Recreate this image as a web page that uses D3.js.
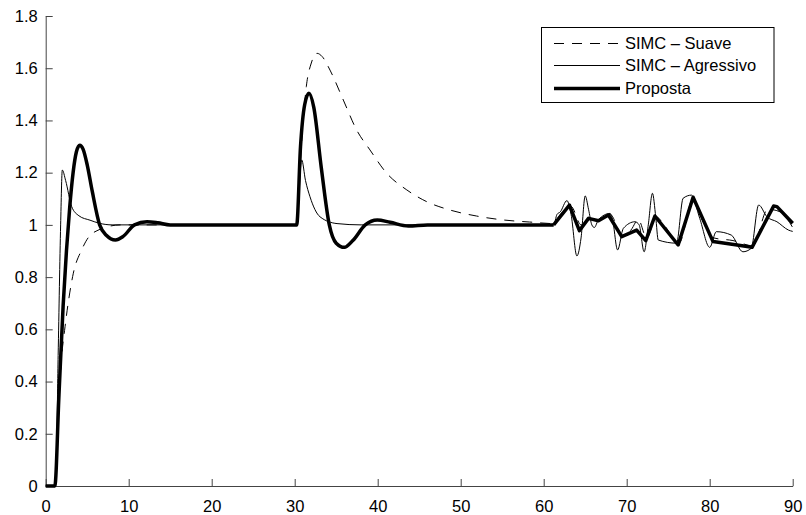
<!DOCTYPE html>
<html>
<head>
<meta charset="utf-8">
<script src="https://cdn.jsdelivr.net/npm/d3@7"></script>
<style>
  body { margin: 0; background: #fff; }
  text { font-family: "Liberation Sans", Arial, sans-serif; }
</style>
</head>
<body>
<svg id="chart" width="806" height="515"></svg>
<script>
// [t, y] pairs
const suave = [
  [0, 0], [1.15, 0], [1.5, 0.25], [1.93, 0.495], [2.33, 0.61], [2.8, 0.72], [3.33, 0.815],
  [4.33, 0.904], [5.1, 0.95], [6.54, 0.983], [7.7, 0.995], [9, 1.0], [30.24, 1.0],
  [30.8, 1.3], [31.4, 1.53], [32.0, 1.62], [32.7, 1.657], [33.3, 1.645], [34.25, 1.593],
  [35.86, 1.478], [37.47, 1.363], [39.07, 1.287], [41.08, 1.198], [43.5, 1.134],
  [45.9, 1.089], [48.7, 1.057], [51.9, 1.034], [55.1, 1.019], [58.3, 1.011], [61.2, 1.005],
  [62, 1.04], [63.3, 1.07], [64.5, 1.0], [65.5, 1.02], [66.6, 1.02], [68, 1.04],
  [69.5, 0.96], [70.5, 0.98], [71.4, 1.02], [72.4, 0.95], [73.6, 1.03], [74.5, 1.0],
  [76.3, 0.93], [78, 1.1], [78.8, 1.04], [80.5, 0.95], [82.8, 0.94], [85.2, 0.92],
  [87, 1.06], [88.5, 1.05], [90, 0.99]
];

const agressivo = [
  [0, 0], [1.2, 0], [1.5, 0.5], [1.8, 1.0], [2.0, 1.21], [2.4, 1.17], [3.13, 1.07],
  [4, 1.035], [5.34, 1.018], [6.5, 1.006], [8, 1.0], [30.24, 1.0], [30.84, 1.249],
  [31.3, 1.17], [31.84, 1.108], [33.05, 1.031], [35.1, 1.005], [38, 1.0], [61.2, 1.0],
  [61.6, 1.04], [62.0, 1.05], [62.8, 1.093], [63.3, 1.04], [64.0, 0.881], [64.5, 0.95],
  [65.0, 1.111], [65.4, 1.06], [65.8, 1.0], [66.1, 0.99], [66.6, 1.02], [68.0, 1.044],
  [68.3, 1.02], [68.9, 0.904], [69.6, 0.987], [71, 1.012], [71.5, 1.0], [72.1, 0.897],
  [72.6, 1.0], [73.1, 1.121], [73.5, 1.03], [73.8, 0.942], [76.0, 0.93], [76.8, 1.102],
  [77.8, 1.114], [78.8, 1.025], [80.0, 0.914], [80.8, 0.974], [82.6, 0.961], [84, 0.897],
  [85, 0.91], [85.9, 1.076], [86.9, 1.031], [88.1, 1.012], [89.5, 0.98], [90, 0.975]
];

const proposta = [
  [0, 0], [1.1, 0], [1.6, 0.35], [2.1, 0.69], [2.5, 0.9], [2.9, 1.07], [3.3, 1.2],
  [3.7, 1.28], [4.1, 1.305], [4.5, 1.29], [5, 1.23], [5.6, 1.13], [6.5, 1.0], [7.3, 0.96],
  [8.4, 0.942], [9.3, 0.955], [10.7, 1.0], [12.2, 1.012], [13.5, 1.008], [15, 1.0],
  [30.24, 1.0], [30.7, 1.3], [31.2, 1.46], [31.72, 1.504], [32.3, 1.45], [33.2, 1.22],
  [34.17, 1.0], [35.0, 0.93], [35.98, 0.914], [37.0, 0.94], [38.5, 1.0], [39.95, 1.019],
  [41.5, 1.01], [43.7, 0.996], [46, 1.0], [61.2, 1.0], [63.1, 1.076], [64.3, 0.978],
  [65.4, 1.025], [66.6, 1.016], [67.8, 1.038], [69.4, 0.955], [71.2, 0.98], [72.3, 0.94],
  [73.4, 1.034], [76.2, 0.923], [78.0, 1.106], [80.4, 0.936], [83.3, 0.923], [85.1, 0.914],
  [87.7, 1.072], [88.1, 1.07], [90, 1.006]
];

const xTicks = [0, 10, 20, 30, 40, 50, 60, 70, 80, 90];
const yTicks = [0, 0.2, 0.4, 0.6, 0.8, 1, 1.2, 1.4, 1.6, 1.8];
const legendLabels = ["SIMC \u2013 Suave", "SIMC \u2013 Agressivo", "Proposta"];

const svg = d3.select("#chart");
const x = d3.scaleLinear().domain([0, 90]).range([45.7, 792.7]);
const y = d3.scaleLinear().domain([0, 1.8]).range([486, 16]);

// axes: left and bottom only, ticks pointing inward
const axisColor = "#444";
const xAxis = svg.append("g").attr("transform", "translate(0,486)")
  .call(d3.axisBottom(x).tickValues(xTicks).tickSizeInner(-7).tickSizeOuter(0).tickPadding(14)
    .tickFormat(d3.format("d")));
const yAxis = svg.append("g").attr("transform", "translate(45.7,0)")
  .call(d3.axisLeft(y).tickValues(yTicks).tickSizeInner(-7).tickSizeOuter(0).tickPadding(8)
    .tickFormat(d => String(+d.toFixed(1))));

[xAxis, yAxis].forEach(g => {
  g.select(".domain").attr("stroke", axisColor);
  g.selectAll(".tick line").attr("stroke", axisColor);
  g.selectAll(".tick text").attr("fill", "#000").attr("font-size", 16.5)
    .attr("font-family", "'Liberation Sans', Arial, sans-serif");
});

const smooth = d3.line()
  .x(d => x(d[0]))
  .y(d => y(d[1]))
  .curve(d3.curveMonotoneX);
const straight = d3.line()
  .x(d => x(d[0]))
  .y(d => y(d[1]));

const series = [
  { data: suave, width: 1, dash: "10,8" },
  { data: agressivo, width: 1, dash: null },
  { data: proposta, width: 3.5, dash: null }
];

function drawPath(d, s) {
  svg.append("path")
    .attr("d", d)
    .attr("fill", "none")
    .attr("stroke", "#000")
    .attr("stroke-width", s.width)
    .attr("stroke-dasharray", s.dash)
    .attr("stroke-linejoin", "round");
}

drawPath(smooth(suave), series[0]);
drawPath(smooth(agressivo), series[1]);
// the proposed controller's disturbance part looks like straight segments
drawPath(smooth(proposta.filter(d => d[0] <= 61.2)), series[2]);
drawPath(straight(proposta.filter(d => d[0] >= 61.2)), series[2]);

// legend
const legend = svg.append("g");
legend.append("rect")
  .attr("x", 541.5).attr("y", 27.5).attr("width", 232.5).attr("height", 75)
  .attr("fill", "#fff").attr("stroke", "#000").attr("stroke-width", 1);

const rowY = [43.5, 65.5, 88.5];
series.forEach((s, i) => {
  legend.append("line")
    .attr("x1", 554).attr("x2", 620)
    .attr("y1", rowY[i]).attr("y2", rowY[i])
    .attr("stroke", "#000")
    .attr("stroke-width", s.width)
    .attr("stroke-dasharray", s.dash);
  legend.append("text")
    .attr("x", 625).attr("y", rowY[i]).attr("dy", "0.35em")
    .attr("font-size", 16.5)
    .text(legendLabels[i]);
});
</script>
</body>
</html>
